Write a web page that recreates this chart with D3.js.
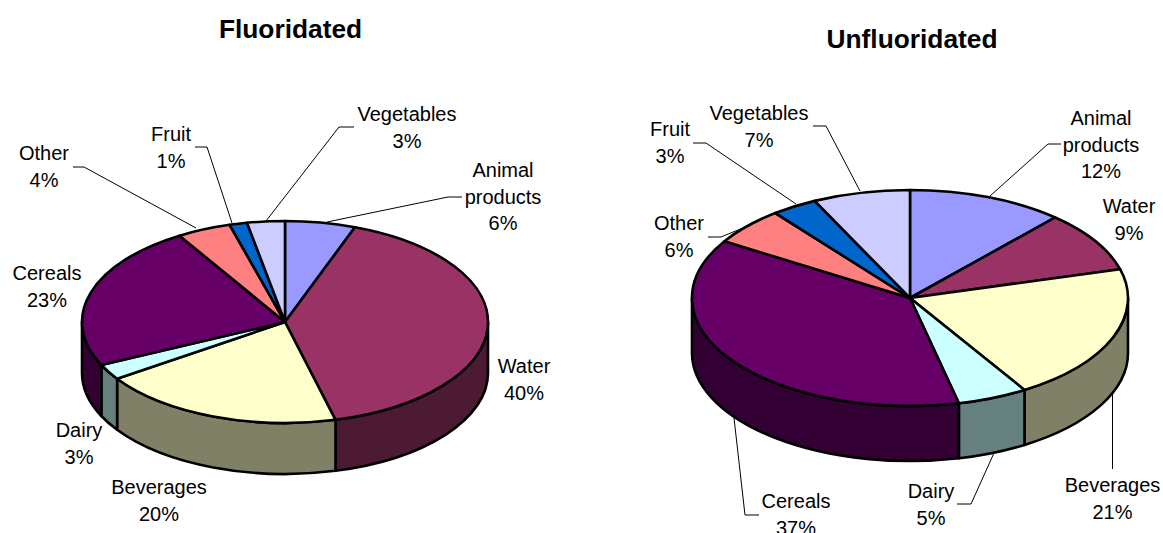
<!DOCTYPE html>
<html><head><meta charset="utf-8">
<script src="https://cdn.jsdelivr.net/npm/d3@7"></script>
<style>html,body{margin:0;padding:0;background:#fff;overflow:hidden}svg{display:block}text{font-family:"Liberation Sans",Arial,sans-serif;fill:#000}</style>
</head><body><svg id="c" width="1163" height="533"></svg>
<script>
const categories = ["Animal products","Water","Beverages","Dairy","Cereals","Other","Fruit","Vegetables"];
const fluoridatedValues = [5.6,40.4,19.5,2.5,23.3,4.3,1.4,3.0];
const unfluoridatedValues = [11.6,9.1,20.5,5.2,37.4,5.6,3.4,7.2];
const topColors = ["#9999FF","#993366","#FFFFCC","#CCFFFF","#660066","#FF8080","#0066CC","#CCCCFF"];
const sideColors = ["#4D4D80","#4D1A33","#808066","#668080","#330033","#804040","#003366","#666680"];

// layout: [centre x, first-line centre y] for each label
const fluoridatedLabelAt = [[503,170],[524,366],[159,487],[79,430],[47,273],[44,153],[171,134],[407,114]];
const unfluoridatedLabelAt = [[1101,118],[1129,206],[1112.5,485],[931,491],[796,501],[679,223],[670,129],[759,113]];
const fluoridatedLeaders = [
  [[327,222],[448,197],[462,197]], null, null, null, null,
  [[196,228],[84,167],[73,167]],
  [[232,223],[207,147],[195,147]],
  [[266,221],[339,127],[354,127]]
];
const unfluoridatedLeaders = [
  [[990,196],[1048,144],[1061,144]], null,
  [[1112.5,392],[1112.5,469]],
  [[994,453],[971,504],[957,504]],
  [[734,418],[745,515],[759,515]],
  [[743,228],[721,237],[708,237]],
  [[796,204],[706,143],[693,143]],
  [[860,191],[826,126],[813,126]]
];

const FONT = 20, LINE = 26.3;
const svg = d3.select("#c");

function drawPie(cfg){
  const {title,titleX,titleY,values,cx,cy,rx,ry,depth,labelAt,leaders} = cfg;
  const arcs = d3.pie().sort(null).value(d=>d)(values);
  const g = svg.append("g");
  const pt = (a,dy=0)=>[cx+rx*Math.sin(a), cy-ry*Math.cos(a)+dy];
  const lo = Math.PI/2, hi = 3*Math.PI/2;

  // leader lines
  const line = d3.line();
  leaders.forEach(l=>{ if(l) g.append("path").attr("d",line(l)).attr("fill","none").attr("stroke","#000").attr("stroke-width",1); });

  // side walls (front half only)
  const walls = g.append("g");
  arcs.forEach((d,i)=>{
    const a0 = Math.max(d.startAngle,lo), a1 = Math.min(d.endAngle,hi);
    if(a1<=a0) return;
    const p0=pt(a0), p1=pt(a1), q1=pt(a1,depth), q0=pt(a0,depth);
    const large = (a1-a0)>Math.PI?1:0;
    walls.append("path")
      .attr("d",`M${p0}A${rx},${ry} 0 ${large} 1 ${p1}L${q1}A${rx},${ry} 0 ${large} 0 ${q0}Z`)
      .attr("fill",sideColors[i]).attr("stroke","#000").attr("stroke-width",2.6).attr("stroke-linejoin","round");
  });

  // top surface
  const arc = d3.arc().innerRadius(0).outerRadius(rx);
  const top = g.append("g").attr("transform",`translate(${cx},${cy}) scale(1,${ry/rx})`);
  top.selectAll("path").data(arcs).join("path")
    .attr("d",arc).attr("fill",(d,i)=>topColors[i])
    .attr("stroke","#000").attr("stroke-width",2.6).attr("stroke-linejoin","round")
    .attr("vector-effect","non-scaling-stroke");

  // labels
  arcs.forEach((d,i)=>{
    const [x,y]=labelAt[i];
    const lines = categories[i]==="Animal products"?["Animal","products"]:[categories[i]];
    lines.push(Math.round(d.data)+"%");
    const t = g.append("text").attr("text-anchor","middle").attr("font-size",FONT);
    lines.forEach((s,k)=>t.append("tspan").attr("x",x).attr("y",y+k*LINE).attr("dy","0.36em").text(s));
  });

  svg.append("text").attr("x",titleX).attr("y",titleY).attr("dy","0.36em")
    .attr("text-anchor","middle").attr("font-size",26.3).attr("font-weight","bold").text(title);
}

drawPie({title:"Fluoridated",titleX:290.5,titleY:29,values:fluoridatedValues,cx:285,cy:322,rx:203,ry:101,depth:51,labelAt:fluoridatedLabelAt,leaders:fluoridatedLeaders});
drawPie({title:"Unfluoridated",titleX:912,titleY:39,values:unfluoridatedValues,cx:910,cy:298,rx:218,ry:108,depth:55,labelAt:unfluoridatedLabelAt,leaders:unfluoridatedLeaders});
</script></body></html>
